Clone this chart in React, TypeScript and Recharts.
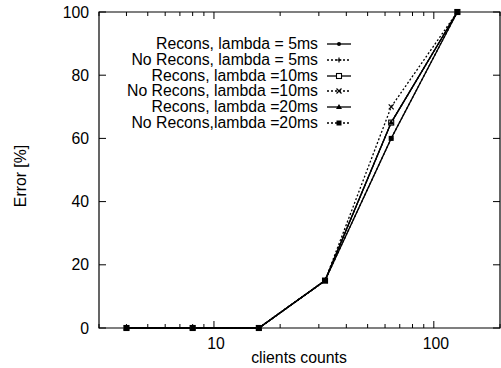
import { LineChart, Line, XAxis, YAxis, ReferenceArea, Legend } from "recharts";

// data
const clients = [4, 8, 16, 32, 64, 128];
const reconsLambda5 = [0, 0, 0, 15, 60, 100];
const noReconsLambda5 = [0, 0, 0, 15, 65, 100];
const reconsLambda10 = [0, 0, 0, 15, 65, 100];
const noReconsLambda10 = [0, 0, 0, 15, 70, 100];
const reconsLambda20 = [0, 0, 0, 15, 65, 100];
const noReconsLambda20 = [0, 0, 0, 15, 60, 100];

const seriesNames = [
  "Recons, lambda = 5ms",
  "No Recons, lambda = 5ms",
  "Recons, lambda =10ms",
  "No Recons, lambda =10ms",
  "Recons, lambda =20ms",
  "No Recons,lambda =20ms",
];
const seriesValues = [
  reconsLambda5,
  noReconsLambda5,
  reconsLambda10,
  noReconsLambda10,
  reconsLambda20,
  noReconsLambda20,
];

const xTicks = [3, 4, 5, 6, 7, 8, 9, 10, 20, 30, 40, 50, 60, 70, 80, 90, 100, 200];
const xMajor = [10, 100];
const yTicks = [0, 20, 40, 60, 80, 100];

const rows = clients.map((c, i) => {
  const row: Record<string, number> = { clients: c };
  seriesValues.forEach((vals, k) => (row["s" + k] = vals[i]));
  return row;
});

// styling
const FONT = "'Liberation Sans', Arial, sans-serif";
const FS = 15.8;
const PLOT_LEFT = 99;
const PLOT_RIGHT = 500;
const PLOT_TOP = 12;
const PLOT_BOTTOM = 328;
const dashes = [undefined, "2 2", undefined, "2 2", undefined, "2 2"];
const markers = ["dot", "plus", "openSquare", "cross", "triangle", "square"];

function Marker({ cx, cy, kind }: { cx: number; cy: number; kind: string }) {
  const s = 2.5;
  switch (kind) {
    case "dot":
      return <circle cx={cx} cy={cy} r={2} fill="#000" />;
    case "plus":
      return (
        <path d={`M${cx - s},${cy}H${cx + s}M${cx},${cy - s}V${cy + s}`} stroke="#000" strokeWidth={1.2} />
      );
    case "openSquare":
      return <rect x={cx - s} y={cy - s} width={2 * s} height={2 * s} fill="#fff" stroke="#000" strokeWidth={1.1} />;
    case "cross":
      return (
        <path
          d={`M${cx - s},${cy - s}L${cx + s},${cy + s}M${cx - s},${cy + s}L${cx + s},${cy - s}`}
          stroke="#000"
          strokeWidth={1.2}
        />
      );
    case "triangle":
      return <path d={`M${cx},${cy - 3}L${cx + 3},${cy + 2}L${cx - 3},${cy + 2}Z`} fill="#000" />;
    default:
      return <rect x={cx - s} y={cy - s} width={2 * s} height={2 * s} fill="#000" />;
  }
}

const XTick = (props: any) => {
  const { x, payload } = props;
  const v = payload.value;
  const major = xMajor.includes(v);
  const len = major ? 7 : 4;
  return (
    <g>
      <line x1={x} x2={x} y1={PLOT_BOTTOM} y2={PLOT_BOTTOM - len} stroke="#000" />
      <line x1={x} x2={x} y1={PLOT_TOP} y2={PLOT_TOP + len} stroke="#000" />
      {major && (
        <text x={x + 2} y={PLOT_BOTTOM + 21} textAnchor="middle" fontFamily={FONT} fontSize={FS} fill="#000">
          {v}
        </text>
      )}
    </g>
  );
};

const YTick = (props: any) => {
  const { y, payload } = props;
  return (
    <g>
      <line x1={PLOT_LEFT} x2={PLOT_LEFT + 7} y1={y} y2={y} stroke="#000" />
      <line x1={PLOT_RIGHT} x2={PLOT_RIGHT - 7} y1={y} y2={y} stroke="#000" />
      <text x={PLOT_LEFT - 10} y={y} dy="0.36em" textAnchor="end" fontFamily={FONT} fontSize={FS} fill="#000">
        {payload.value}
      </text>
    </g>
  );
};

const LegendBox = () => (
  <div style={{ fontFamily: FONT, fontSize: FS, color: "#000" }}>
    {seriesNames.map((name, k) => (
      <div key={name} style={{ display: "flex", alignItems: "center", height: 15.8 }}>
        <span style={{ width: 218, textAlign: "right", whiteSpace: "nowrap", lineHeight: "16px" }}>{name}</span>
        <svg width={26} height={16} style={{ marginLeft: 9 }}>
          <line x1={0} x2={24} y1={8} y2={8} stroke="#000" strokeWidth={1.3} strokeDasharray={dashes[k]} />
          <Marker cx={12} cy={8} kind={markers[k]} />
        </svg>
      </div>
    ))}
  </div>
);

export default function App() {
  return (
    <div style={{ position: "absolute", left: 0, top: 0, width: 501, height: 368, background: "#fff" }}>
      <LineChart width={501} height={368} data={rows} margin={{ top: PLOT_TOP, right: 501 - PLOT_RIGHT, bottom: 0, left: 0 }}>
        <XAxis
          dataKey="clients"
          type="number"
          scale="log"
          domain={[3, 200]}
          allowDataOverflow
          ticks={xTicks}
          interval={0}
          tick={<XTick />}
          tickLine={false}
          axisLine={false}
          height={368 - PLOT_BOTTOM}
          label={{
            content: () => (
              <text x={299} y={363} textAnchor="middle" fontFamily={FONT} fontSize={FS} fill="#000">
                clients counts
              </text>
            ),
          }}
        />
        <YAxis
          type="number"
          domain={[0, 100]}
          ticks={yTicks}
          interval={0}
          tick={<YTick />}
          tickLine={false}
          axisLine={false}
          width={PLOT_LEFT}
          label={{
            content: () => (
              <text
                x={26}
                y={176}
                transform="rotate(-90 26 176)"
                textAnchor="middle"
                fontFamily={FONT}
                fontSize={FS}
                fill="#000"
              >
                Error [%]
              </text>
            ),
          }}
        />
        <ReferenceArea x1={3} x2={200} y1={0} y2={100} fill="none" stroke="#000" strokeWidth={1.2} />
        <Legend
          layout="vertical"
          align="center"
          verticalAlign="middle"
          content={<LegendBox />}
          wrapperStyle={{ left: 100, top: 36, width: 255 }}
        />
        {seriesNames.map((name, k) => (
          <Line
            key={name}
            dataKey={"s" + k}
            name={name}
            stroke="#000"
            strokeWidth={1.3}
            strokeDasharray={dashes[k]}
            isAnimationActive={false}
            dot={(p: any) => <Marker key={p.index} cx={p.cx} cy={p.cy} kind={markers[k]} />}
            activeDot={false}
          />
        ))}
      </LineChart>
    </div>
  );
}
